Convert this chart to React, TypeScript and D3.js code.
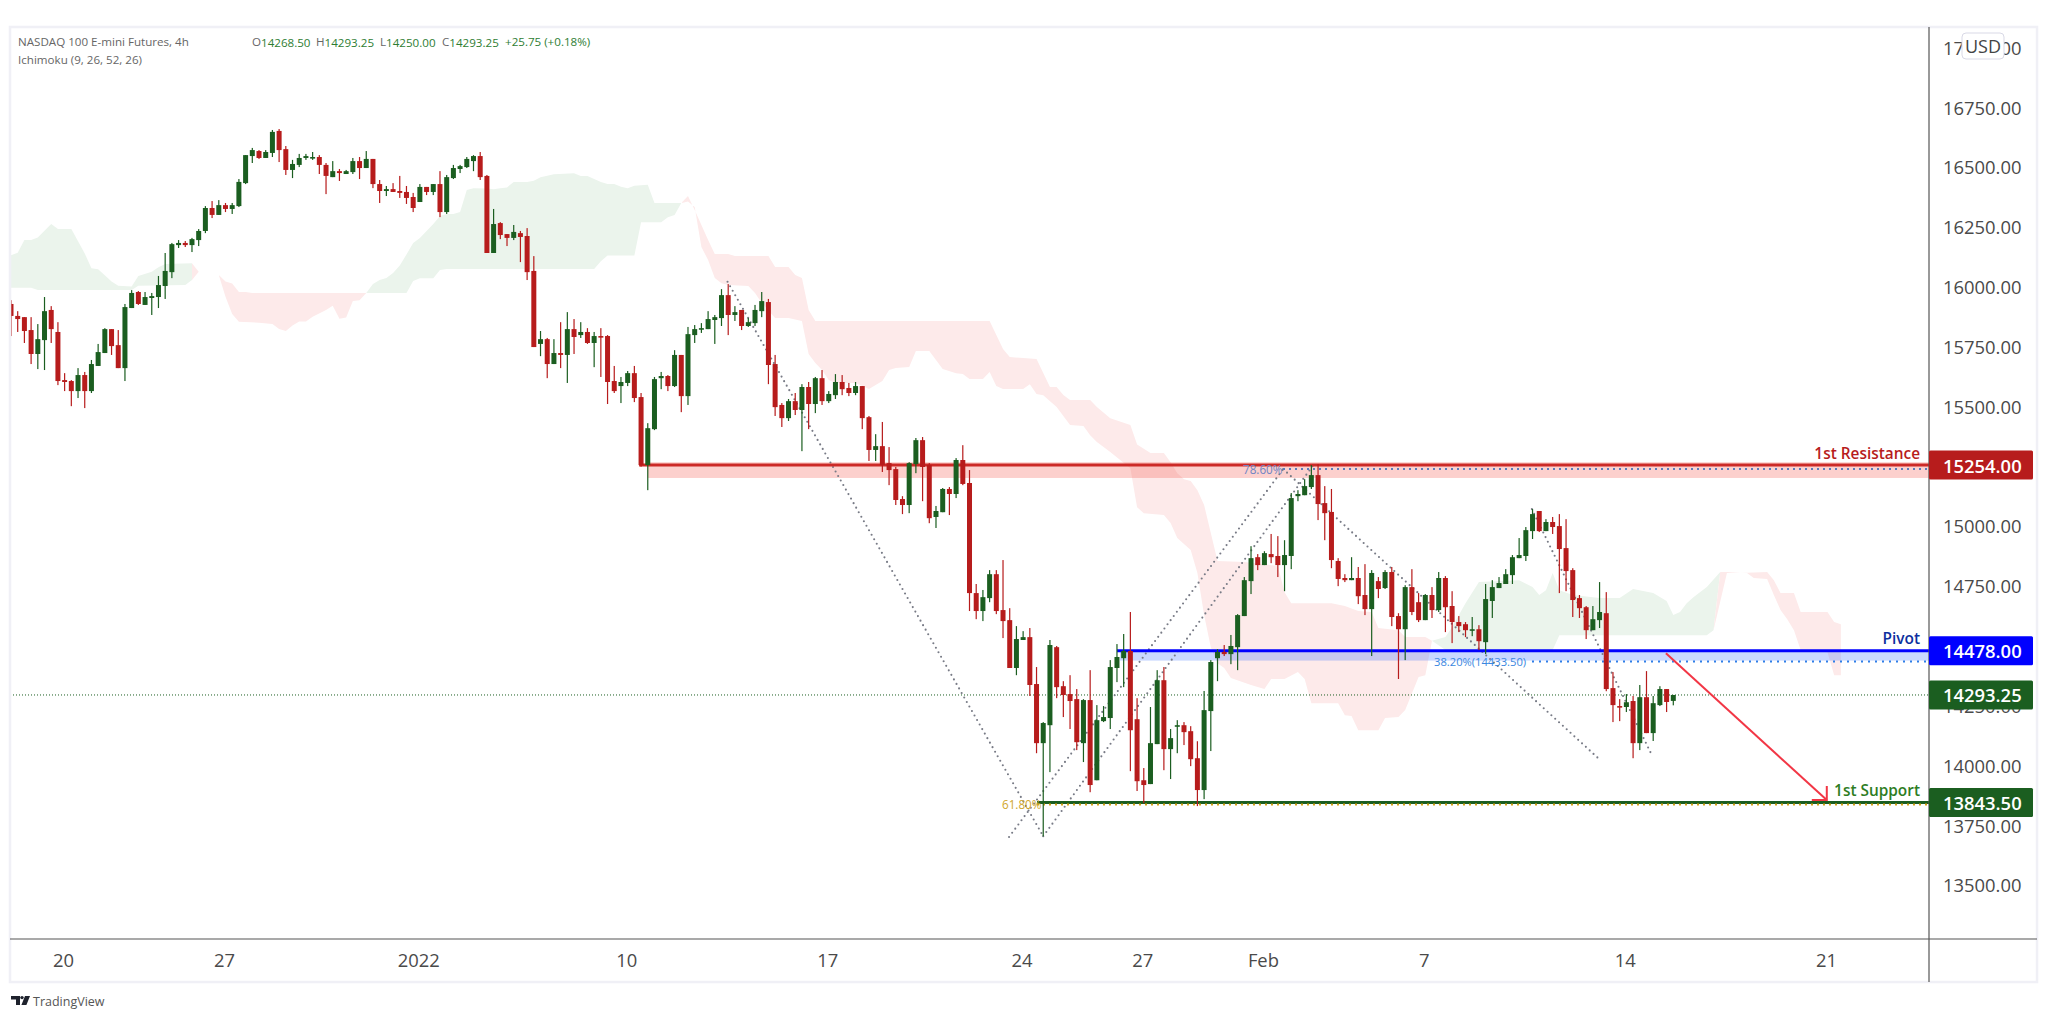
import * as d3 from "d3";

const W = 2047;
const H = 1018;

// 4h bars, oldest first
const opens = [
  15927,15877,15872,15818,15718,15776,15902,15810,15609,15605,
  15563,15630,15563,15668,15722,15822,15755,15659,15910,15977,
  15923,15952,15956,16002,16060,16173,16182,16173,16194,16232,
  16328,16299,16340,16324,16336,16432,16545,16566,16537,16558,
  16650,16574,16487,16508,16537,16537,16541,16508,16457,16482,
  16470,16478,16524,16495,16533,16428,16399,16407,16399,16395,
  16374,16353,16416,16395,16428,16311,16453,16491,16499,16524,
  16545,16462,16140,16265,16219,16203,16223,16211,16065,15760,
  15780,15676,15722,15714,15822,15797,15810,15764,15793,15793,
  15605,15584,15597,15638,15538,15254,15404,15617,15626,15584,
  15714,15542,15797,15822,15822,15860,15868,15964,15881,15902,
  15835,15847,15897,15935,15676,15505,15450,15521,15484,15580,
  15509,15617,15521,15546,15601,15576,15555,15584,15454,15317,
  15333,15262,15237,15112,15087,15258,15358,15254,15037,15057,
  15154,15133,15275,15179,14719,14644,14698,14798,14648,14606,
  14406,14523,14535,14339,14092,14167,14493,14330,14297,14276,
  14092,14272,13937,14184,14197,14406,14447,14477,14192,13937,
  13921,14088,14355,14067,14163,14167,14142,14029,13896,14226,
  14447,14473,14464,14493,14623,14769,14869,14836,14882,14874,
  14836,14874,15124,15128,15162,15212,15095,15058,14853,14782,
  14773,14782,14711,14652,14769,14740,14807,14623,14568,14744,
  14681,14606,14711,14648,14782,14665,14598,14589,14564,14568,
  14514,14686,14740,14757,14794,14865,14874,14978,15062,14978,
  15016,14999,14907,14815,14698,14660,14564,14606,14635,14322,
  14247,14243,14268,14092,14284,14134,14251,14318,14268.5,
];
const highs = [
  15943,15897,15872,15872,15843,15956,15918,15851,15638,15609,
  15659,15643,15693,15760,15826,15822,15818,15927,15985,15981,
  15977,15973,16044,16140,16182,16194,16190,16203,16240,16336,
  16357,16361,16349,16349,16449,16549,16579,16570,16570,16654,
  16658,16587,16529,16554,16554,16562,16549,16516,16524,16491,
  16487,16537,16541,16566,16533,16445,16420,16432,16462,16420,
  16391,16428,16416,16428,16482,16466,16508,16508,16541,16549,
  16562,16466,16324,16269,16219,16257,16232,16244,16127,15814,
  15785,15780,15851,15893,15864,15851,15826,15810,15826,15797,
  15668,15622,15647,15668,15555,15429,15622,15643,15630,15734,
  15714,15831,15839,15847,15897,15881,15989,16010,15918,15902,
  15868,15923,15977,15948,15714,15513,15530,15555,15592,15601,
  15622,15651,15563,15634,15630,15597,15601,15584,15459,15383,
  15434,15329,15246,15124,15266,15367,15371,15262,15083,15158,
  15162,15283,15337,15233,14757,14732,14815,14815,14857,14656,
  14581,14560,14573,14410,14180,14523,14498,14351,14376,14318,
  14276,14397,14251,14247,14439,14506,14548,14640,14280,13988,
  14243,14397,14410,14151,14188,14180,14163,14100,14310,14439,
  14485,14502,14544,14631,14786,14915,14882,14894,14966,14957,
  14940,15137,15149,15195,15254,15258,15166,15154,14865,14798,
  14869,14828,14840,14815,14786,14815,14828,14635,14752,14819,
  14719,14715,14744,14807,14790,14727,14623,14598,14619,14585,
  14757,14773,14786,14819,14878,14949,14995,15070,15062,15028,
  15037,15049,15028,14823,14711,14665,14665,14765,14723,14389,
  14276,14297,14289,14335,14393,14289,14330,14318,14293.25,
];
const lows = [
  15793,15810,15764,15676,15655,15651,15764,15588,15563,15500,
  15534,15492,15555,15668,15722,15714,15659,15605,15910,15923,
  15923,15881,15910,15948,16035,16161,16165,16144,16169,16223,
  16286,16299,16311,16303,16332,16428,16516,16533,16537,16541,
  16520,16466,16453,16499,16529,16529,16470,16386,16457,16441,
  16470,16470,16449,16495,16411,16349,16378,16395,16370,16345,
  16311,16353,16382,16382,16290,16303,16449,16474,16495,16482,
  16445,16140,16140,16198,16169,16194,16102,16027,15747,15709,
  15617,15676,15659,15597,15718,15785,15760,15663,15622,15509,
  15555,15513,15584,15517,15247,15149,15400,15571,15563,15580,
  15475,15505,15764,15806,15822,15760,15835,15797,15856,15818,
  15831,15835,15872,15592,15459,15413,15438,15463,15312,15404,
  15471,15505,15513,15530,15546,15542,15546,15404,15271,15271,
  15225,15170,15087,15049,15053,15220,15103,15011,14991,15057,
  15045,15116,15170,14644,14610,14602,14681,14631,14531,14406,
  14376,14523,14289,14050,13703,13971,14280,14201,14151,14063,
  14013,13887,13937,14180,14151,14347,14326,13975,13892,13841,
  13921,14088,13979,13942,14050,14084,13996,13829,13858,14059,
  14351,14456,14422,14397,14623,14715,14815,14836,14844,14786,
  14727,14819,15103,15128,15154,15024,14940,14823,14748,14765,
  14773,14673,14627,14456,14698,14736,14581,14360,14439,14627,
  14598,14606,14615,14640,14556,14510,14556,14535,14539,14481,
  14464,14615,14740,14757,14757,14865,14853,14945,14974,14978,
  14966,14719,14727,14619,14615,14527,14564,14573,14309,14180,
  14184,14222,14029,14063,14134,14101,14247,14222,14250,
];
const closes = [
  15877,15864,15814,15718,15780,15897,15822,15605,15601,15563,
  15630,15563,15676,15726,15822,15751,15659,15914,15973,15927,
  15956,15960,16006,16065,16177,16182,16173,16198,16232,16328,
  16299,16340,16324,16340,16437,16549,16570,16537,16562,16646,
  16570,16487,16512,16537,16545,16541,16508,16462,16482,16474,
  16482,16524,16495,16533,16428,16399,16407,16395,16391,16370,
  16328,16416,16395,16428,16311,16457,16495,16503,16533,16545,
  16457,16140,16261,16215,16203,16228,16207,16060,15747,15780,
  15676,15722,15714,15822,15789,15810,15764,15793,15789,15601,
  15563,15601,15638,15534,15254,15408,15613,15626,15584,15714,
  15542,15801,15822,15826,15864,15872,15964,15881,15893,15835,
  15851,15902,15939,15672,15496,15450,15521,15484,15580,15509,
  15617,15521,15551,15601,15571,15555,15584,15450,15317,15333,
  15254,15233,15108,15087,15262,15358,15246,15032,15062,15154,
  15133,15275,15175,14719,14644,14702,14798,14644,14602,14406,
  14527,14535,14335,14092,14176,14502,14326,14293,14268,14096,
  14272,13917,14188,14201,14410,14452,14477,14146,13933,13917,
  14092,14355,14067,14113,14167,14138,14025,13896,14230,14431,
  14473,14464,14498,14627,14773,14865,14836,14886,14869,14836,
  14878,15116,15133,15166,15212,15091,15053,14857,14778,14773,
  14782,14706,14652,14803,14736,14807,14619,14568,14744,14640,
  14606,14711,14648,14782,14660,14598,14581,14564,14568,14518,
  14694,14744,14761,14798,14869,14878,14982,15049,14978,15016,
  14995,14903,14811,14690,14656,14564,14610,14640,14318,14251,
  14243,14263,14092,14284,14134,14259,14318,14264,14293.25,
];

// 15250 and 14500 sit fully behind the price labels, so they are left out
const priceTicks = [17000,16750,16500,16250,16000,15750,15500,15000,14750,14250,14000,13750,13500];
const dateTicks: [number, string][] = [
  [8,"20"],[32,"27"],[61,"2022"],[92,"10"],[122,"17"],[151,"24"],[169,"27"],[187,"Feb"],[211,"7"],[241,"14"],[271,"21"],
];

// ichimoku cloud, [bar, price]
const greenUpper1 = [[0,16131],[1,16141],[2,16194],[3,16194],[4,16205],[6,16261],[7,16240],[9,16240],[11,16138],[12,16076],[13,16072],[15,16021],[16,16003],[18,16000],[19,16044],[21,16062],[22,16080],[23,16094],[27,16097]];
const greenLower1 = [[0,15995],[3,15995],[4,15985],[18,15985],[19,16003],[26,16006],[27,16027]];
const redUpper1 = [[27,16097],[28,16062]];
const redLower1 = [[27,16027],[28,16062]];
const redUpper2 = [[31,16048],[32,16021],[33,16013],[34,15977],[35,15977],[36,15973],[53,15973]];
const redLower2 = [[31,16048],[32,15957],[33,15885],[34,15853],[37,15849],[39,15843],[40,15822],[41,15814],[42,15837],[43,15854],[44,15854],[45,15874],[47,15902],[48,15920],[49,15865],[50,15870],[51,15939],[52,15943],[53,15973]];
const greenUpper2 = [[53,15973],[54,16010],[55,16027],[56,16035],[57,16056],[58,16088],[59,16134],[60,16182],[61,16203],[62,16232],[63,16261],[64,16295],[65,16303],[66,16303],[67,16311],[68,16403],[69,16410],[71,16409],[72,16406],[73,16411],[74,16414],[75,16437],[77,16437],[78,16442],[79,16457],[81,16469],[84,16473],[85,16462],[86,16462],[88,16437],[89,16428],[90,16428],[91,16417],[92,16411],[93,16421],[95,16425],[96,16349],[100,16349]];
const greenLower2 = [[53,15973],[59,15973],[60,16023],[61,16034],[63,16034],[64,16069],[65,16073],[87,16073],[88,16106],[89,16130],[93,16130],[94,16268],[97,16268],[98,16289],[99,16299],[100,16349]];
const redUpper3 = [[100,16349],[101,16378],[102,16320],[104,16194],[105,16136],[107,16136],[108,16127],[113,16127],[114,16081],[116,16081],[117,16048],[118,16035],[119,15902],[120,15856],[146,15856],[147,15797],[148,15739],[149,15705],[151,15701],[153,15697],[155,15580],[156,15580],[157,15547],[158,15526],[161,15526],[162,15496],[164,15450],[167,15421],[168,15340],[170,15304],[172,15304],[173,15266],[174,15220],[175,15195],[176,15187],[177,15149],[178,15087],[180,14853],[184,14849],[189,14832],[190,14723],[191,14677],[197,14677],[199,14665],[201,14644],[203,14640],[204,14573],[207,14564],[208,14535],[211,14535],[212,14520]];
const redLower3 = [[100,16349],[101,16355],[102,16332],[103,16165],[104,16111],[105,16035],[106,16014],[107,16006],[110,16002],[111,15973],[112,15931],[114,15868],[116,15868],[118,15856],[119,15718],[120,15680],[121,15651],[122,15609],[123,15597],[126,15597],[128,15572],[130,15605],[131,15651],[132,15659],[134,15664],[135,15730],[137,15730],[139,15655],[141,15638],[142,15634],[143,15613],[145,15613],[146,15643],[147,15584],[148,15572],[151,15572],[152,15592],[153,15551],[154,15546],[156,15496],[158,15421],[160,15417],[161,15379],[162,15350],[164,15308],[167,15241],[168,15078],[169,15053],[172,15045],[173,15012],[174,14949],[176,14899],[177,14803],[178,14627],[179,14493],[180,14426],[181,14406],[182,14364],[185,14335],[187,14318],[188,14360],[190,14360],[192,14389],[193,14360],[194,14259],[198,14259],[199,14209],[200,14205],[201,14146],[204,14146],[205,14197],[207,14201],[208,14230],[210,14368],[211,14376],[212,14520]];
const greenUpper3 = [[212,14520],[214,14535],[215,14577],[217,14677],[219,14765],[225,14773],[227,14744],[228,14711],[229,14731],[230,14803],[231,14731],[233,14711],[237,14698],[240,14698],[242,14736],[245,14719],[247,14686],[248,14627],[249,14640],[250,14677],[251,14702],[253,14744],[255,14807]];
const greenLower3 = [[212,14520],[214,14481],[230,14481],[231,14543],[253,14543],[254,14564],[255,14807]];
const redUpper4 = [[254,14564],[255,14807],[256,14807],[258,14803],[262,14807],[263,14773],[264,14719],[266,14719],[267,14640],[271,14640],[272,14598],[273,14589]];
const redLower4 = [[254,14564],[256,14803],[259,14803],[260,14782],[262,14778],[263,14711],[264,14648],[265,14610],[266,14564],[267,14481],[271,14472],[272,14376],[273,14376]];

// support / resistance levels
const resistance = 15254;
const pivot = 14478;
const support = 13843.5;
const lastPrice = 14293.25;
const resistanceZone = [15266, 15200];
const pivotZone = [14478, 14437];
const fib786 = 15237;
const fib382 = 14433.5;
const fib618 = 13836;

// dotted fib legs, bar/price
const fibLegs = [
  [[106.9,16020],[154,13703]],
  [[148.9,13700],[189.8,15237]],
  [[154,13703],[194.4,15258]],
  [[189.8,15237],[236.8,14029]],
  [[226.9,15070],[244.8,14042]],
];
const arrowLeg = [[246.9,14468],[270.9,13854]];

const GREEN = "#1b5e20";
const RED = "#b71c1c";
const FONT = "'Open Sans', sans-serif";

const plotL = 10, plotR = 1929, plotT = 27, plotB = 939, frameB = 982, frameR = 2037;

const x = d3.scaleLinear().domain([0, 248]).range([11, 1673.3]);
const y = d3.scaleLinear().domain([13750, 16750]).range([825, 107]);
const line = d3.line<number[]>().x((d) => x(d[0])).y((d) => y(d[1]));

const patches = [
  { fill: "#ebf4ec", upper: greenUpper1, lower: greenLower1 },
  { fill: "#fdeaea", upper: redUpper1, lower: redLower1 },
  { fill: "#fdeaea", upper: redUpper2, lower: redLower2 },
  { fill: "#ebf4ec", upper: greenUpper2, lower: greenLower2 },
  { fill: "#fdeaea", upper: redUpper3, lower: redLower3 },
  { fill: "#ebf4ec", upper: greenUpper3, lower: greenLower3 },
  { fill: "#fdeaea", upper: redUpper4, lower: redLower4 },
];

const priceLabels = [
  { value: resistance, text: "15254.00", fill: RED },
  { value: pivot, text: "14478.00", fill: "#0000ff" },
  { value: lastPrice, text: "14293.25", fill: GREEN },
  { value: support, text: "13843.50", fill: GREEN },
];

export default function App() {
  const arrowEnd = [x(arrowLeg[1][0]), y(arrowLeg[1][1])];
  return (
    <svg
      width={W}
      height={H}
      viewBox={`0 0 ${W} ${H}`}
      style={{ position: "absolute", left: 0, top: 0, background: "#fff", fontFamily: FONT }}
    >
      <defs>
        <clipPath id="plot">
          <rect x={plotL} y={plotT} width={plotR - plotL} height={plotB - plotT} />
        </clipPath>
      </defs>

      <g clipPath="url(#plot)">
        {patches.map((p, i) => (
          <path key={i} d={line([...p.upper, ...[...p.lower].reverse()]) + "Z"} fill={p.fill} />
        ))}

        <rect x={x(95)} y={y(resistanceZone[0])} width={plotR - x(95)} height={y(resistanceZone[1]) - y(resistanceZone[0])} fill="#f44336" fillOpacity={0.25} />
        <rect x={1120} y={y(pivotZone[0])} width={plotR - 1120} height={y(pivotZone[1]) - y(pivotZone[0])} fill="#2962ff" fillOpacity={0.25} />

        <line x1={plotL} x2={plotR} y1={y(lastPrice)} y2={y(lastPrice)} stroke={GREEN} strokeWidth={1} strokeDasharray="1 2" />

        {fibLegs.map((leg, i) => (
          <path key={i} d={line(leg)!} fill="none" stroke="#787b86" strokeWidth={2.1} strokeDasharray="0 5.2" strokeLinecap="round" />
        ))}

        <line x1={x(94) - 2} x2={plotR} y1={y(resistance)} y2={y(resistance)} stroke="#cc2a27" strokeWidth={3} />
        <line x1={1117} x2={plotR} y1={y(pivot)} y2={y(pivot)} stroke="#0000ff" strokeWidth={3} />
        <line x1={1037} x2={plotR} y1={y(support)} y2={y(support)} stroke={GREEN} strokeWidth={3} />

        <line x1={1283} x2={plotR} y1={y(fib786)} y2={y(fib786)} stroke="#5b7bbb" strokeWidth={2} strokeDasharray="2 4" />
        <line x1={1532} x2={plotR} y1={y(fib382)} y2={y(fib382)} stroke="#2f7ee8" strokeWidth={2} strokeDasharray="2 5" />
        <line x1={1037} x2={plotR} y1={y(fib618)} y2={y(fib618)} stroke="#d4a017" strokeWidth={2} strokeDasharray="2 4" />

        <g>
          {opens.map((o, i) => {
            const c = closes[i];
            const col = c >= o ? GREEN : RED;
            const top = y(Math.max(o, c));
            const h = Math.max(y(Math.min(o, c)) - top, 1.6);
            return (
              <g key={i} fill={col}>
                <rect x={x(i) - 0.6} y={y(highs[i])} width={1.2} height={y(lows[i]) - y(highs[i])} />
                <rect x={x(i) - 2.5} y={top} width={5} height={h} />
              </g>
            );
          })}
        </g>

        <path d={line(arrowLeg)!} fill="none" stroke="#f23645" strokeWidth={2} />
        <path
          d={`M${arrowEnd[0]},${arrowEnd[1] - 14}V${arrowEnd[1]}H${arrowEnd[0] - 15}`}
          fill="none"
          stroke="#f23645"
          strokeWidth={2}
        />

        <g dominantBaseline="central">
          <text x={1243} y={y(fib786)} fontSize={11.7} fill="#6f84c4">78.60%</text>
          <text x={1434} y={y(fib382)} fontSize={11.2} fill="#3a87e0">38.20%(14433.50)</text>
          <text x={1002} y={y(fib618)} fontSize={11.7} fill="#d0a62a">61.80%</text>
        </g>

        <g fontSize={15.4} fontWeight={600} textAnchor="end" dominantBaseline="central">
          <text x={1920} y={453} fill={RED}>1st Resistance</text>
          <text x={1920} y={638} fill="#0d2f9e">Pivot</text>
          <text x={1920} y={790} fill="#2e7d1f">1st Support</text>
        </g>
      </g>

      {/* frame and axes */}
      <rect x={plotL} y={plotT} width={frameR - plotL} height={frameB - plotT} fill="none" stroke="#f0f0f6" strokeWidth={2.5} />
      <line x1={plotL} x2={frameR} y1={plotB} y2={plotB} stroke="#555" strokeWidth={1.2} />
      <line x1={plotR} x2={plotR} y1={plotT} y2={frameB} stroke="#555" strokeWidth={1.2} />

      <g fontSize={18.4} fill="#4a4a4a" dominantBaseline="central">
        {priceTicks.map((t) => (
          <text key={t} x={1943} y={y(t)}>{d3.format(".2f")(t)}</text>
        ))}
        {dateTicks.map(([i, s]) => (
          <text key={s + i} x={x(i) - 1} y={959} textAnchor="middle">{s}</text>
        ))}
      </g>

      {priceLabels.map((l) => (
        <g key={l.text}>
          <rect x={plotR} y={y(l.value) - 14.5} width={104} height={29} rx={1.5} fill={l.fill} />
          <text x={1943} y={y(l.value)} fontSize={18.4} fontWeight={600} fill="#fff" dominantBaseline="central">{l.text}</text>
        </g>
      ))}

      <rect x={1962} y={33} width={42} height={26} rx={4} fill="#fff" stroke="#d9d9e6" strokeWidth={1} />
      <text x={1983} y={46} fontSize={18} fill="#444" textAnchor="middle" dominantBaseline="central">USD</text>

      {/* legend */}
      <g fontSize={11.6} dominantBaseline="central" fill="#666">
        <text x={18} y={41.5}>NASDAQ 100 E-mini Futures, 4h</text>
        <text x={18} y={59}>Ichimoku (9, 26, 52, 26)</text>
        <text x={252} y={41.5}>O<tspan fill="#2e7d32">14268.50</tspan></text>
        <text x={316} y={41.5}>H<tspan fill="#2e7d32">14293.25</tspan></text>
        <text x={380} y={41.5}>L<tspan fill="#2e7d32">14250.00</tspan></text>
        <text x={442} y={41.5}>C<tspan fill="#2e7d32">14293.25</tspan></text>
        <text x={505} y={41.5} fill="#2e7d32">+25.75 (+0.18%)</text>
      </g>

      {/* footer mark */}
      <g fill="#1e222d">
        <path d="M11,996h9v9h-4v-5.5h-5z" />
        <circle cx={22} cy={997.6} r={1.7} />
        <path d="M25,996h5l-3.6,9h-5z" />
      </g>
      <text x={33} y={1001} fontSize={12.5} fill="#555" dominantBaseline="central">TradingView</text>
    </svg>
  );
}
